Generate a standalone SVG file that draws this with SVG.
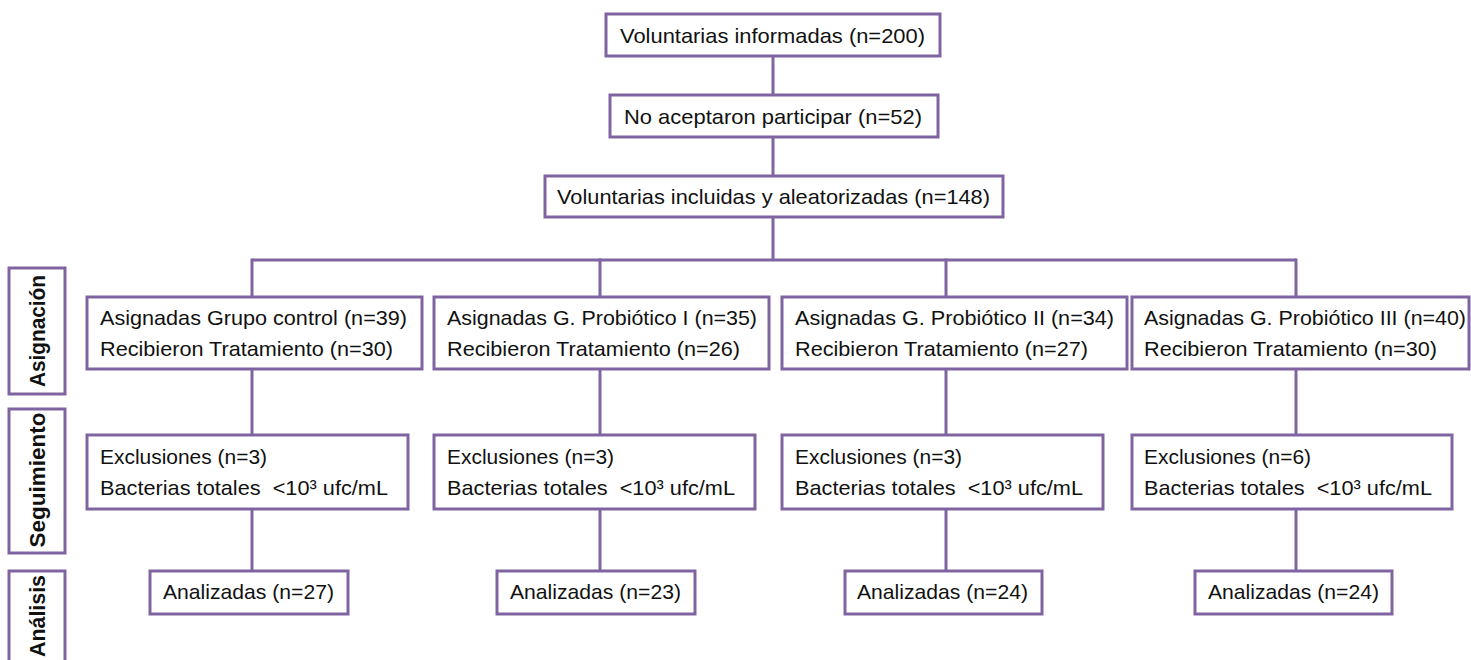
<svg xmlns="http://www.w3.org/2000/svg" width="1471" height="660" viewBox="0 0 1471 660">
<style>
rect{fill:#fff;stroke:#8064A2;stroke-width:3}
.c line{stroke:#8064A2;stroke-width:3}
text{font-family:"Liberation Sans",Arial,sans-serif;font-size:21px;fill:#111}
.lab{font-weight:bold;font-size:22px}
</style>
<rect x="0" y="0" width="1471" height="660" style="stroke:none"/>
<g class="c" id="connectors">
<line x1="773" y1="56" x2="773" y2="95"/>
<line x1="773" y1="137" x2="773" y2="176"/>
<line x1="773" y1="217" x2="773" y2="260"/>
<line x1="252" y1="260" x2="1296" y2="260"/>
<line x1="252" y1="258.5" x2="252" y2="297"/>
<line x1="600" y1="258.5" x2="600" y2="297"/>
<line x1="946" y1="258.5" x2="946" y2="297"/>
<line x1="1296" y1="258.5" x2="1296" y2="297"/>
<line x1="252" y1="369" x2="252" y2="435"/>
<line x1="600" y1="369" x2="600" y2="435"/>
<line x1="946" y1="369" x2="946" y2="435"/>
<line x1="1296" y1="369" x2="1296" y2="435"/>
<line x1="252" y1="509" x2="252" y2="571"/>
<line x1="600" y1="509" x2="600" y2="571"/>
<line x1="946" y1="509" x2="946" y2="571"/>
<line x1="1296" y1="509" x2="1296" y2="571"/>
</g>
<g id="n_informadas"><rect x="606" y="14" width="334" height="42"/><text x="620" y="43" textLength="305" lengthAdjust="spacingAndGlyphs">Voluntarias informadas (n=200)</text></g>
<g id="n_noacept"><rect x="610" y="95" width="328" height="42"/><text x="624" y="124" textLength="298" lengthAdjust="spacingAndGlyphs">No aceptaron participar (n=52)</text></g>
<g id="n_incluidas"><rect x="545" y="176" width="458" height="41"/><text x="557" y="204" textLength="433" lengthAdjust="spacingAndGlyphs">Voluntarias incluidas y aleatorizadas (n=148)</text></g>

<g id="lab_asig"><rect x="9" y="268" width="56" height="126"/><text class="lab" transform="translate(45,331) rotate(-90)" text-anchor="middle" textLength="112" lengthAdjust="spacingAndGlyphs">Asignación</text></g>
<g id="lab_seg"><rect x="9" y="409" width="56" height="144"/><text class="lab" transform="translate(45,480) rotate(-90)" text-anchor="middle" textLength="135" lengthAdjust="spacingAndGlyphs">Seguimiento</text></g>
<g id="lab_anal"><rect x="9" y="571" width="56" height="100"/><text class="lab" transform="translate(45,616) rotate(-90)" text-anchor="middle" textLength="82" lengthAdjust="spacingAndGlyphs">Análisis</text></g>

<g id="g1_asig"><rect x="87" y="297" width="335" height="72"/><text x="100" y="325" textLength="307" lengthAdjust="spacingAndGlyphs">Asignadas Grupo control (n=39)</text><text x="100" y="356" textLength="293" lengthAdjust="spacingAndGlyphs">Recibieron Tratamiento (n=30)</text></g>
<g id="g2_asig"><rect x="434" y="297" width="335" height="72"/><text x="447" y="325" textLength="310" lengthAdjust="spacingAndGlyphs">Asignadas G. Probiótico I (n=35)</text><text x="447" y="356" textLength="293" lengthAdjust="spacingAndGlyphs">Recibieron Tratamiento (n=26)</text></g>
<g id="g3_asig"><rect x="782" y="297" width="345" height="72"/><text x="795" y="325" textLength="319" lengthAdjust="spacingAndGlyphs">Asignadas G. Probiótico II (n=34)</text><text x="795" y="356" textLength="293" lengthAdjust="spacingAndGlyphs">Recibieron Tratamiento (n=27)</text></g>
<g id="g4_asig"><rect x="1132" y="297" width="337" height="72"/><text x="1144" y="325" textLength="322" lengthAdjust="spacingAndGlyphs">Asignadas G. Probiótico III (n=40)</text><text x="1144" y="356" textLength="293" lengthAdjust="spacingAndGlyphs">Recibieron Tratamiento (n=30)</text></g>

<g id="g1_excl"><rect x="87" y="435" width="321" height="74"/><text x="100" y="464" textLength="167" lengthAdjust="spacingAndGlyphs">Exclusiones (n=3)</text><text x="100" y="495" textLength="288" lengthAdjust="spacingAndGlyphs">Bacterias totales &#160;&lt;10³ ufc/mL</text></g>
<g id="g2_excl"><rect x="434" y="435" width="321" height="74"/><text x="447" y="464" textLength="167" lengthAdjust="spacingAndGlyphs">Exclusiones (n=3)</text><text x="447" y="495" textLength="288" lengthAdjust="spacingAndGlyphs">Bacterias totales &#160;&lt;10³ ufc/mL</text></g>
<g id="g3_excl"><rect x="782" y="435" width="321" height="74"/><text x="795" y="464" textLength="167" lengthAdjust="spacingAndGlyphs">Exclusiones (n=3)</text><text x="795" y="495" textLength="288" lengthAdjust="spacingAndGlyphs">Bacterias totales &#160;&lt;10³ ufc/mL</text></g>
<g id="g4_excl"><rect x="1132" y="435" width="320" height="74"/><text x="1144" y="464" textLength="167" lengthAdjust="spacingAndGlyphs">Exclusiones (n=6)</text><text x="1144" y="495" textLength="288" lengthAdjust="spacingAndGlyphs">Bacterias totales &#160;&lt;10³ ufc/mL</text></g>

<g id="g1_anal"><rect x="150" y="571" width="198" height="43"/><text x="163" y="599" textLength="171" lengthAdjust="spacingAndGlyphs">Analizadas (n=27)</text></g>
<g id="g2_anal"><rect x="497" y="571" width="198" height="43"/><text x="510" y="599" textLength="171" lengthAdjust="spacingAndGlyphs">Analizadas (n=23)</text></g>
<g id="g3_anal"><rect x="845" y="571" width="197" height="43"/><text x="857" y="599" textLength="171" lengthAdjust="spacingAndGlyphs">Analizadas (n=24)</text></g>
<g id="g4_anal"><rect x="1195" y="571" width="197" height="43"/><text x="1208" y="599" textLength="171" lengthAdjust="spacingAndGlyphs">Analizadas (n=24)</text></g>
</svg>
